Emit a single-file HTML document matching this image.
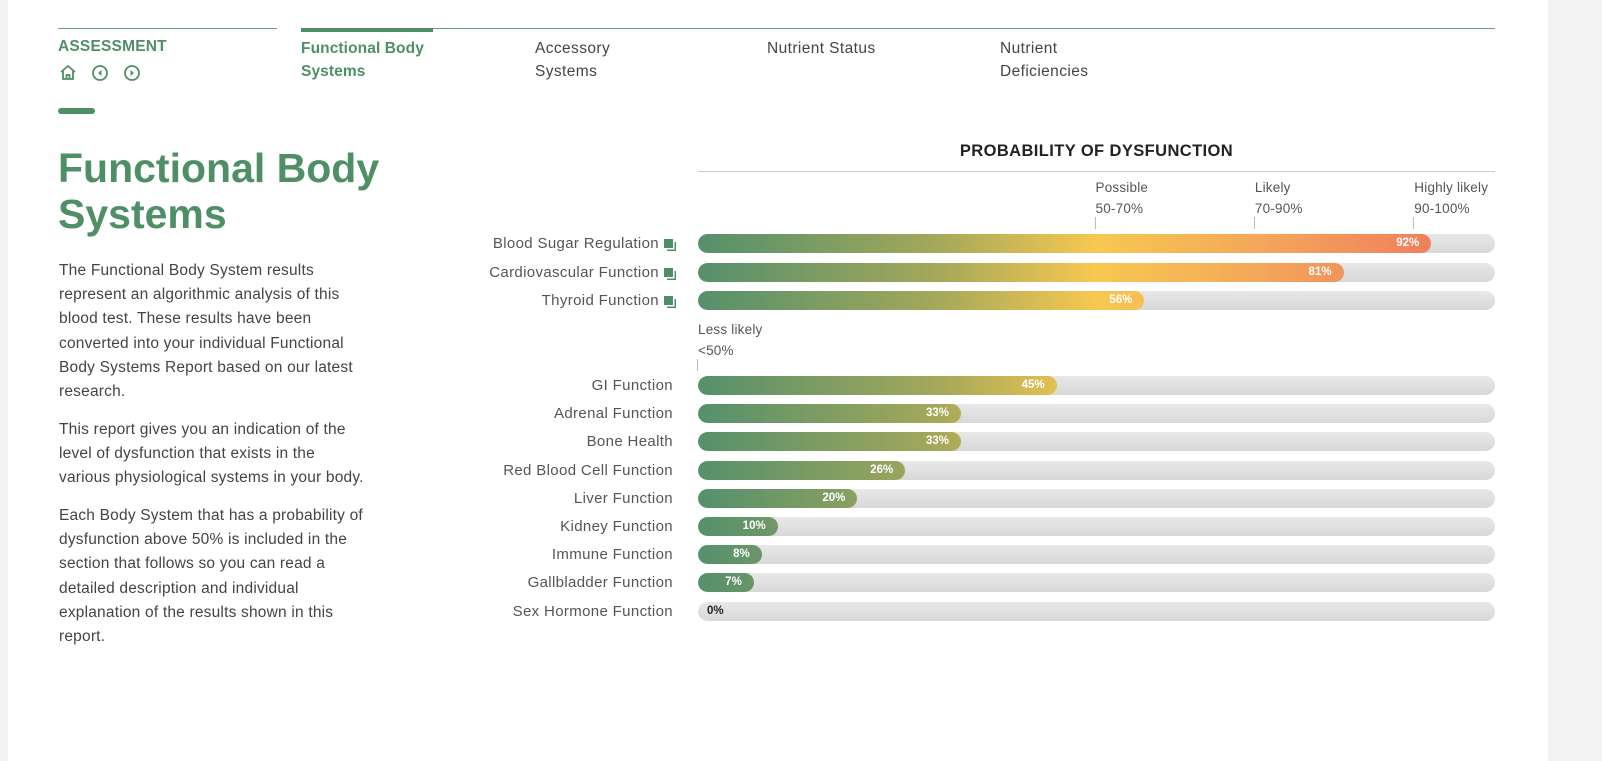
<!DOCTYPE html>
<html><head><meta charset="utf-8"><style>
body{margin:0;width:1602px;height:761px;background:#f3f3f3;font-family:"Liberation Sans",sans-serif;overflow:hidden;position:relative}
#panel{position:absolute;left:8px;top:0;width:1540px;height:761px;background:#fff}
.abs{position:absolute}
.nav{font-size:15.5px;color:#444;line-height:23px;letter-spacing:0.4px}
.g{color:#4e8f66}
.p{font-size:15.5px;color:#444;line-height:24.2px;white-space:nowrap;letter-spacing:0.2px}
.lbl{position:absolute;right:929px;font-size:15px;color:#555;white-space:nowrap;line-height:20px;letter-spacing:0.35px}
.ic{display:inline-block;width:9px;height:9px;background:#4e8f66;margin-left:5px;box-shadow:2px 2px 0 -0.5px #fff,3px 3px 0 0 #4e8f66;vertical-align:0px}
.track{position:absolute;left:698px;width:797px;height:19px;border-radius:10px;background:linear-gradient(#e8e8e8,#d8d8d8);overflow:hidden}
.fill{position:absolute;left:0;top:0;height:100%;border-radius:10px;overflow:hidden}
.grad{position:absolute;left:0;top:0;width:797px;height:100%;background:linear-gradient(90deg,#55906c 0%,#a4a85a 30%,#f7c850 50%,#f4a85a 70%,#f07f5e 92%,#ee6f5e 100%)}
.val{position:absolute;top:0;font-size:11.5px;font-weight:bold;color:#fff;line-height:19px}
.tick{font-size:13.5px;color:#555;line-height:21px;letter-spacing:0.2px}
</style></head><body>
<div id="panel"></div>
<div class="abs" style="left:58px;top:28px;width:219px;height:1px;background:#6aa07d"></div>
<div class="abs" style="left:301px;top:28px;width:1194px;height:1px;background:#6aa07d"></div>
<div class="abs" style="left:301px;top:28px;width:132px;height:4px;background:#4e8f66"></div>
<div class="abs g" style="left:58px;top:38px;font-size:15.5px;font-weight:bold;letter-spacing:0.2px">ASSESSMENT</div>
<svg class="abs" style="left:58px;top:63px" width="90" height="20">
<g fill="none" stroke="#4e8f66" stroke-width="1.8"><path d="M3 9 L10 3 L17 9 M5 8 V16 H15 V8 M8.5 16 V12 H11.5 V16"/>
<circle cx="42" cy="10" r="7"/><circle cx="74" cy="10" r="7"/></g>
<path d="M43.5 7 L40 10 L43.5 13Z M72.5 7 L76 10 L72.5 13Z" fill="#4e8f66"/></svg>
<div class="abs" style="left:58px;top:108px;width:37px;height:6px;border-radius:3px;background:#4e8f66"></div>
<div class="abs nav" style="left:301px;top:37px;font-weight:bold;letter-spacing:0.1px;color:#4e8f66">Functional Body<br>Systems</div>
<div class="abs nav" style="left:535px;top:37px">Accessory<br>Systems</div>
<div class="abs nav" style="left:767px;top:37px">Nutrient Status</div>
<div class="abs nav" style="left:1000px;top:37px">Nutrient<br>Deficiencies</div>
<div class="abs g" style="left:58px;top:145px;font-size:41px;font-weight:bold;line-height:46px">Functional Body<br>Systems</div>
<div class="abs p" style="left:59px;top:259px">The Functional Body System results<br>represent an algorithmic analysis of this<br>blood test. These results have been<br>converted into your individual Functional<br>Body Systems Report based on our latest<br>research.</div>
<div class="abs p" style="left:59px;top:418px">This report gives you an indication of the<br>level of dysfunction that exists in the<br>various physiological systems in your body.</div>
<div class="abs p" style="left:59px;top:504px">Each Body System that has a probability of<br>dysfunction above 50% is included in the<br>section that follows so you can read a<br>detailed description and individual<br>explanation of the results shown in this<br>report.</div>
<div class="abs" style="left:698px;top:142px;width:797px;text-align:center;font-size:16.5px;font-weight:bold;color:#222;letter-spacing:0.4px">PROBABILITY OF DYSFUNCTION</div>
<div class="abs" style="left:698px;top:171px;width:797px;height:1px;background:#ccc"></div>
<div id="chart"></div>
<script>
const labels=["Blood Sugar Regulation","Cardiovascular Function","Thyroid Function","GI Function","Adrenal Function","Bone Health","Red Blood Cell Function","Liver Function","Kidney Function","Immune Function","Gallbladder Function","Sex Hormone Function"];
const values=[92,81,56,45,33,33,26,20,10,8,7,0];
const hasIcon=[true,true,true,false,false,false,false,false,false,false,false,false];
const tickNames=["Possible","Likely","Highly likely"];
const tickRanges=["50-70%","70-90%","90-100%"];
const tickValues=[50,70,90];
const X0=698,W=797;
const x=v=>X0+v/100*W;
const rowY=i=>i<3?234+i*28.5:376+(i-3)*28.2;
const c=document.getElementById('chart');
function tick(lx,top,name,range){
const d=document.createElement('div');d.className='abs tick';d.style.left=lx+'px';d.style.top=top+'px';


d.innerHTML=name+'<br>'+range;c.appendChild(d);
const t=document.createElement('div');t.className='abs';t.style.cssText=`left:${lx-1}px;top:${top+40}px;width:1px;height:12px;background:#bbb`;


c.appendChild(t);}
tickValues.forEach((v,i)=>tick(x(v)-1,177,tickNames[i],tickRanges[i]));
tick(x(0),319,"Less likely","&lt;50%");
labels.forEach((l,i)=>{
const y=rowY(i);
const lb=document.createElement('div');lb.className='lbl';lb.style.top=(y)+'px';


lb.innerHTML=l+(hasIcon[i]?'<span class="ic"></span>':'');
c.appendChild(lb);
const tr=document.createElement('div');tr.className='track';tr.style.top=y+'px';


const f=document.createElement('div');f.className='fill';f.style.width=(values[i]/100*W)+'px';


f.innerHTML='<div class="grad"></div>';tr.appendChild(f);
const v=document.createElement('div');v.className='val';v.textContent=values[i]+'%';


if(values[i]<5){v.style.left='9px';v.style.color='#222';}else{v.style.right=(W-values[i]/100*W+12)+'px';}
tr.appendChild(v);c.appendChild(tr);});
</script>
</body></html>
